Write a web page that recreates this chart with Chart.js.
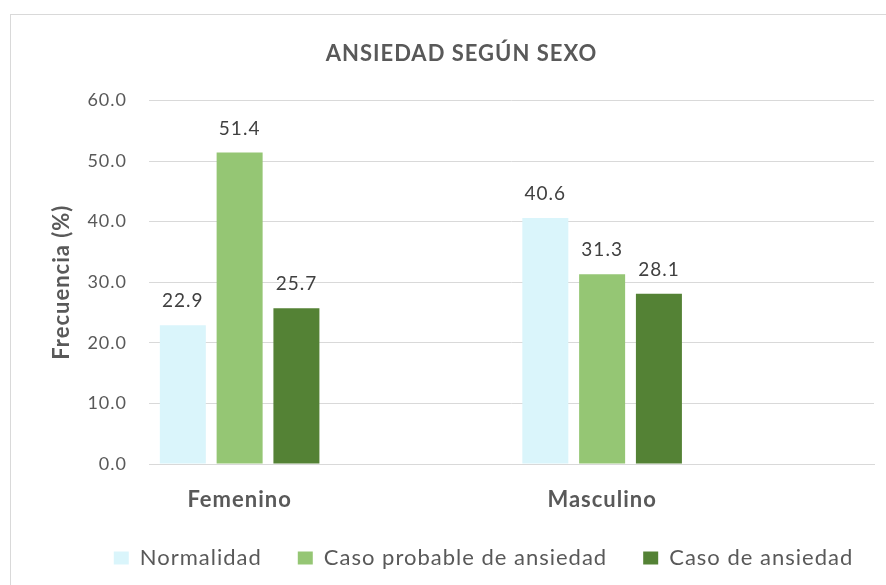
<!DOCTYPE html>
<html lang="es">
  <head>
    <meta charset="UTF-8" />
    <title>Ansiedad según sexo</title>
    <script src="https://cdn.jsdelivr.net/npm/chart.js@4"></script>
    <style>
      body { margin: 0; background: #fff; }
      #wrap { width: 886px; height: 585px; }
    </style>
  </head>
  <body>
    <div id="wrap"><canvas id="myChart" width="886" height="585"></canvas></div>
    <script>
      // categorias y series
      const categorias = ['Femenino', 'Masculino'];
      const posiciones = [0, 1];
      const normalidad = [22.9, 40.6];
      const casoProbable = [51.4, 31.3];
      const casoAnsiedad = [25.7, 28.1];
      const yTicks = [0, 10, 20, 30, 40, 50, 60];

      const fuente = 'Lato, "Open Sans", sans-serif';
      const gris = '#595959';

      function puntos(vals) {
        return vals.map((v, i) => ({ x: posiciones[i], y: v }));
      }

      // el texto de Excel sale algo espaciado
      const espaciado = {
        id: 'espaciado',
        beforeUpdate(chart) { chart.ctx.letterSpacing = '1px'; },
        beforeDraw(chart) { chart.ctx.letterSpacing = '1px'; },
        // la leyenda del original queda algo a la derecha
        afterLayout(chart) {
          chart.legend.left += 22;
          chart.legend.right += 22;
        }
      };

      // marco exterior como en Excel
      const marco = {
        id: 'marco',
        beforeDraw(chart) {
          const c = chart.ctx;
          c.save();
          c.fillStyle = '#fff';
          c.fillRect(0, 0, chart.width, chart.height);
          c.strokeStyle = '#d9d9d9';
          c.lineWidth = 1;
          c.strokeRect(10.5, 14.5, 920, 620);
          c.restore();
        }
      };

      // etiquetas de valor encima de cada barra
      const etiquetas = {
        id: 'etiquetas',
        afterDatasetsDraw(chart) {
          const c = chart.ctx;
          c.save();
          c.font = '19px ' + fuente;
          c.fillStyle = '#404040';
          c.textAlign = 'center';
          c.textBaseline = 'alphabetic';
          chart.data.datasets.forEach((ds, i) => {
            chart.getDatasetMeta(i).data.forEach((bar, j) => {
              c.fillText(ds.data[j].y.toFixed(1), bar.x, bar.y - 18);
            });
          });
          c.restore();
        }
      };

      const ctx = document.getElementById('myChart').getContext('2d');
      const myChart = new Chart(ctx, {
        type: 'bar',
        data: {
          datasets: [
            { label: 'Normalidad', data: puntos(normalidad), backgroundColor: '#DAF5FB' },
            { label: 'Caso probable de ansiedad', data: puntos(casoProbable), backgroundColor: '#95C674' },
            { label: 'Caso de ansiedad', data: puntos(casoAnsiedad), backgroundColor: '#548235' }
          ]
        },
        options: {
          responsive: false,
          animation: false,
          datasets: { bar: { categoryPercentage: 0.47, barPercentage: 0.81 } },
          layout: { padding: { left: 49, right: 12, top: 41, bottom: 6 } },
          plugins: {
            title: {
              display: true,
              text: 'ANSIEDAD SEGÚN SEXO',
              color: gris,
              font: { family: fuente, size: 22, weight: 'bold' },
              padding: { top: 0, bottom: 33 }
            },
            legend: {
              position: 'bottom',
              labels: {
                color: gris,
                font: { family: fuente, size: 22 },
                boxWidth: 15,
                boxHeight: 13,
                padding: 36
              }
            },
            tooltip: { enabled: false }
          },
          scales: {
            x: {
              type: 'linear',
              offset: false,
              min: -0.25,
              max: 1.75,
              afterBuildTicks: (scale) => {
                scale.ticks = posiciones.map(v => ({ value: v }));
              },
              afterFit: (scale) => { scale.height = 47; },
              grid: { display: false, drawTicks: false },
              border: { display: true, color: '#d9d9d9' },
              ticks: {
                color: gris,
                padding: 23,
                font: { family: fuente, size: 22, weight: 'bold' },
                callback: (v, i) => categorias[i]
              }
            },
            y: {
              min: 0,
              max: 60,
              afterBuildTicks: (scale) => {
                scale.ticks = yTicks.map(v => ({ value: v }));
              },
              afterFit: (scale) => { scale.width = 100; },
              grid: { color: '#d9d9d9', drawTicks: false },
              border: { display: false },
              ticks: {
                color: gris,
                padding: 22,
                font: { family: fuente, size: 18 },
                callback: (v) => v.toFixed(1)
              },
              title: {
                display: true,
                text: 'Frecuencia (%)',
                color: gris,
                font: { family: fuente, size: 22, weight: 'bold' },
                padding: { top: 0, bottom: 11 }
              }
            }
          }
        },
        plugins: [espaciado, marco, etiquetas]
      });
    </script>
  </body>
</html>
